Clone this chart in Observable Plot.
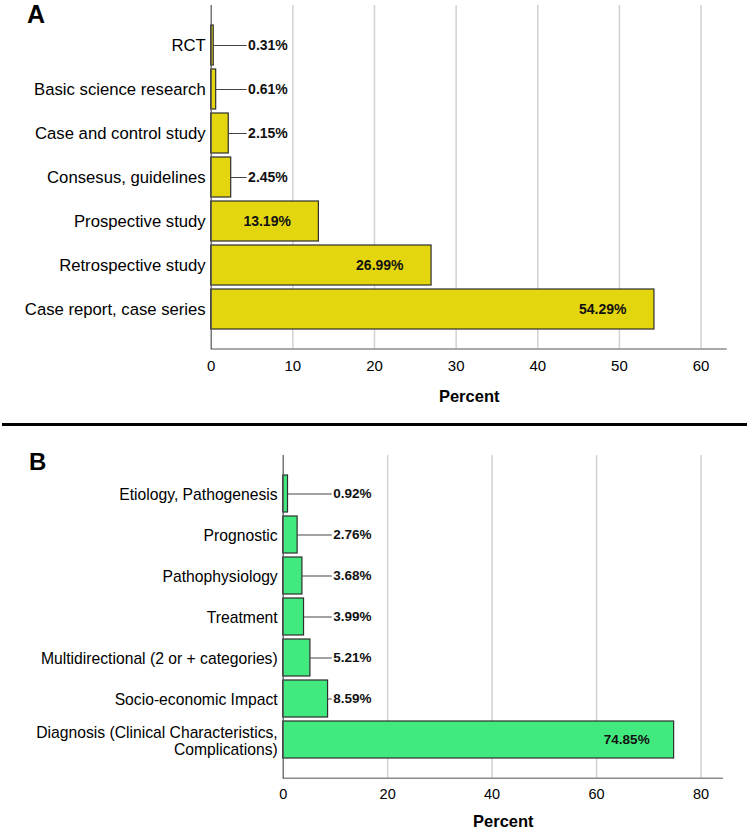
<!DOCTYPE html>
<html><head><meta charset="utf-8">
<script src="https://cdn.jsdelivr.net/npm/d3@7"></script>
<script src="https://cdn.jsdelivr.net/npm/@observablehq/plot@0.6"></script>
<style>
body{margin:0;background:#fff;font-family:"Liberation Sans",Arial,sans-serif;}
#wrap{position:relative;width:749px;height:830px;overflow:hidden;background:#fff;}
.letter{position:absolute;font-weight:bold;line-height:1;color:#000;z-index:5;}
#sep{position:absolute;left:2px;top:423px;width:745px;height:3px;background:#000;z-index:5;}
#pa{position:absolute;left:0;top:0;}
#pb{position:absolute;left:0;top:430px;}
</style></head><body>
<div id="wrap">
  <div id="pa"></div>
  <div id="pb"></div>
  <div class="letter" style="left:27px;top:2px;font-size:25px">A</div>
  <div id="sep"></div>
  <div class="letter" style="left:29px;top:450px;font-size:24px">B</div>
</div>
<script>
// Panel A: study types
const studyTypes = ["RCT", "Basic science research", "Case and control study", "Consesus, guidelines", "Prospective study", "Retrospective study", "Case report, case series"];
const studyPercents = [0.31, 0.61, 2.15, 2.45, 13.19, 26.99, 54.29];
const studyTicks = [0, 10, 20, 30, 40, 50, 60];

// Panel B: research topics
const topicTypes = ["Etiology, Pathogenesis", "Prognostic", "Pathophysiology", "Treatment", "Multidirectional (2 or + categories)", "Socio-economic Impact", "Diagnosis (Clinical Characteristics,\nComplications)"];
const topicPercents = [0.92, 2.76, 3.68, 3.99, 5.21, 8.59, 74.85];
const topicTicks = [0, 20, 40, 60, 80];

const axisTitle = "Percent";

function panel(o) {
  const data = o.cats.map((c, i) => ({cat: c, value: o.vals[i], label: o.vals[i].toFixed(2) + "%"}));
  const inside = data.filter(d => d.value >= 10);
  const outside = data.filter(d => d.value < 10);
  const baseline = (index, scales, values, dims) => {
    const line = document.createElementNS("http://www.w3.org/2000/svg", "line");
    const y = dims.height - dims.marginBottom;
    line.setAttribute("x1", dims.marginLeft);
    line.setAttribute("x2", dims.width - dims.marginRight);
    line.setAttribute("y1", y);
    line.setAttribute("y2", y);
    line.setAttribute("stroke", "#8c8c8c");
    line.setAttribute("stroke-width", "1.5");
    return line;
  };
  return Plot.plot({
    width: 749,
    height: o.height,
    marginTop: o.marginTop,
    marginBottom: o.marginBottom,
    marginLeft: o.marginLeft,
    marginRight: o.marginRight,
    style: {fontFamily: "'Liberation Sans', Arial, sans-serif", background: "transparent", color: "#000", overflow: "visible"},
    x: {domain: [0, o.xMax]},
    y: {domain: o.cats, paddingInner: 0.1, paddingOuter: 0.43},
    marks: [
      Plot.ruleX(o.ticks.filter(t => t > 0), {stroke: "#d2d2d2", strokeWidth: 1.5}),
      baseline,
      Plot.barX(data, {x: "value", y: "cat", fill: o.color, stroke: "#2e2e2e", strokeWidth: 1.2}),
      Plot.ruleX([0], {stroke: "#555", strokeWidth: 1.2}),
      Plot.ruleY(outside, {y: "cat", x1: "value", x2: () => o.calloutX, stroke: "#444", strokeWidth: 1}),
      Plot.text(outside, {y: "cat", x: () => o.calloutX, text: "label", textAnchor: "start", dx: 1, fontWeight: "bold", fontSize: o.valueFont, fill: "#111"}),
      Plot.text(inside, {y: "cat", x: "value", text: "label", textAnchor: "end", dx: o.insideDx, fontWeight: "bold", fontSize: o.valueFont, fill: "#111"}),
      Plot.axisY({tickSize: 0, tickPadding: 5.5, fontSize: o.catFont, lineHeight: 1.06, dy: o.catDy, label: null}),
      Plot.axisX({ticks: o.ticks, tickSize: 0, tickPadding: o.tickPad, fontSize: o.tickFont, label: null, tickFormat: d => String(d)}),
      Plot.text([axisTitle], {text: d => d, frameAnchor: "bottom", dy: o.titleDy, lineAnchor: "middle", fontWeight: "bold", fontSize: 16.5})
    ]
  });
}

document.getElementById("pa").append(panel({
  cats: studyTypes, vals: studyPercents, ticks: studyTicks, xMax: 63.2, color: "#e3d60f",
  height: 420, marginTop: 5, marginBottom: 71, marginLeft: 210.7, marginRight: 22.3,
  catFont: 16.7, catDy: 0, tickFont: 15, valueFont: 14, tickPad: 10.6, titleDy: 47, calloutX: 4.4, insideDx: -28
}));

document.getElementById("pb").append(panel({
  cats: topicTypes, vals: topicPercents, ticks: topicTicks, xMax: 84.3, color: "#42e97e",
  height: 400, marginTop: 25, marginBottom: 51.7, marginLeft: 282.7, marginRight: 26,
  catFont: 15.7, catDy: 1, tickFont: 14.5, valueFont: 13.5, tickPad: 9.8, titleDy: 43.4, calloutX: 9.4, insideDx: -24.5
}));
</script>
</body></html>
